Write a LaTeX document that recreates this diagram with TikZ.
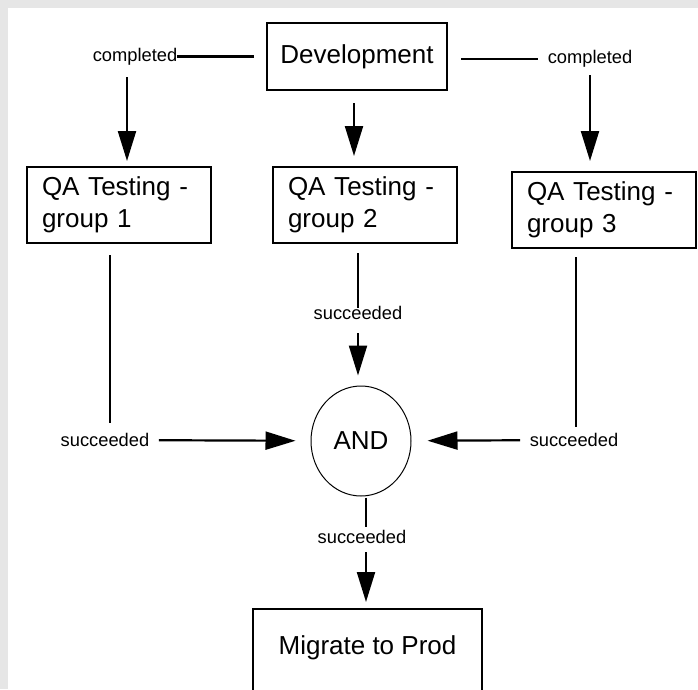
\documentclass[tikz,border=0pt]{standalone}
\usepackage{fontspec}
\setmainfont{Liberation Sans}
\usetikzlibrary{shapes,arrows.meta,calc}
\definecolor{sheet}{HTML}{E6E6E6}
\newcommand{\boxfont}{\fontsize{26}{32}\selectfont}
\newcommand{\tagfont}{\fontsize{18.3}{22}\selectfont}
\tikzstyle{link} = [draw, line width=2.2pt]
\tikzstyle{line} = [link, -{Triangle[length=30pt,width=18pt]}]
\tikzstyle{block} = [draw, line width=2pt, rectangle, font=\boxfont]
\tikzstyle{task} = [block, text width=154pt, align=left, inner xsep=15pt, minimum height=76pt]
\tikzstyle{junction} = [draw, line width=1pt, ellipse, inner sep=0pt, minimum width=100pt, minimum height=110pt, font=\boxfont]
\tikzstyle{tag} = [inner sep=0pt, font=\tagfont]

\begin{document}
\begin{tikzpicture}[x=1pt, y=-1pt]
        \fill[sheet] (0,0) rectangle (698,689);
        \fill[white] (8,8) rectangle (698,689);
        \useasboundingbox (0,0) rectangle (698,689);
        \node[block, minimum width=180pt, minimum height=67pt] (dev) at (357,56.5) {Development};
        \node[task, below of=dev, node distance=148.5pt, xshift=8pt] (qa2) {QA Testing -\\group 2};
        \node[task, left of=qa2, node distance=246pt] (qa1) {QA Testing -\\group 1};
        \node[task, right of=qa2, node distance=239pt, yshift=-5pt] (qa3) {QA Testing -\\group 3};
        \node[junction, below of=qa2, node distance=236pt, xshift=-4pt] (and) {AND};
        \node[block, below of=and, node distance=167pt, anchor=north, xshift=6.5pt, minimum width=229pt,
              text height=38pt, text depth=60pt, inner ysep=7.5pt] (mig) {Migrate to Prod};
        \node[tag, left of=dev, node distance=222pt] (cl) {completed};
        \node[tag, right of=dev, node distance=233pt, yshift=-2.5pt] (cr) {completed};
        \node[tag, below of=qa2, node distance=108pt, xshift=-7pt] (s2) {succeeded};
        \node[tag, below of=qa1, node distance=235pt, xshift=-14pt] (s1) {succeeded};
        \node[tag, below of=qa3, node distance=230pt, xshift=-30pt] (s3) {succeeded};
        \node[tag, below of=and, node distance=96pt, xshift=1pt] (s4) {succeeded};
        \coordinate (clfoot) at ([xshift=-8pt]cl.south);
        \coordinate (devfoot) at ([xshift=-3pt]dev.south);
        \coordinate (s1top) at ([xshift=5pt]s1.north);
        \coordinate (s3top) at ([xshift=2pt]s3.north);
        \coordinate (s4mid) at ([xshift=4pt]s4.center);
        \path[link, shorten <=12pt] (dev) -- (cl);
        \path[link, shorten <=13pt, shorten >=10pt] (dev.east |- cr) -- (cr);
        \path[line, shorten <=12pt, shorten >=5pt] (clfoot) -- (clfoot |- qa1.north);
        \path[line, shorten <=7.5pt, shorten >=10pt] (cr.south) -- (cr.south |- qa3.north);
        \path[line, shorten <=12pt, shorten >=10pt] (devfoot) -- (devfoot |- qa2.north);
        \path[link, shorten <=11pt, shorten >=10pt] (s1top |- qa1.south) -- (s1top);
        \path[line, shorten <=9.5pt, shorten >=15pt] (s1) -- (and);
        \path[link, shorten <=9pt, shorten >=5pt] (s2 |- qa2.south) -- (s2.center);
        \path[line, shorten <=13.4pt, shorten >=10pt] (s2.south) -- (s2.south |- and.north);
        \path[link, shorten <=8pt, shorten >=6.4pt] (s3top |- qa3.south) -- (s3top);
        \path[line, shorten <=9.5pt, shorten >=16pt] (s3) -- (and);
        \path[link, shorten <=1pt, shorten >=10pt] (s4mid |- and.south) -- (s4mid);
        \path[line, shorten <=15pt, shorten >=6pt] (s4mid) -- (s4mid |- mig.north);
    \end{tikzpicture}
\end{document}
